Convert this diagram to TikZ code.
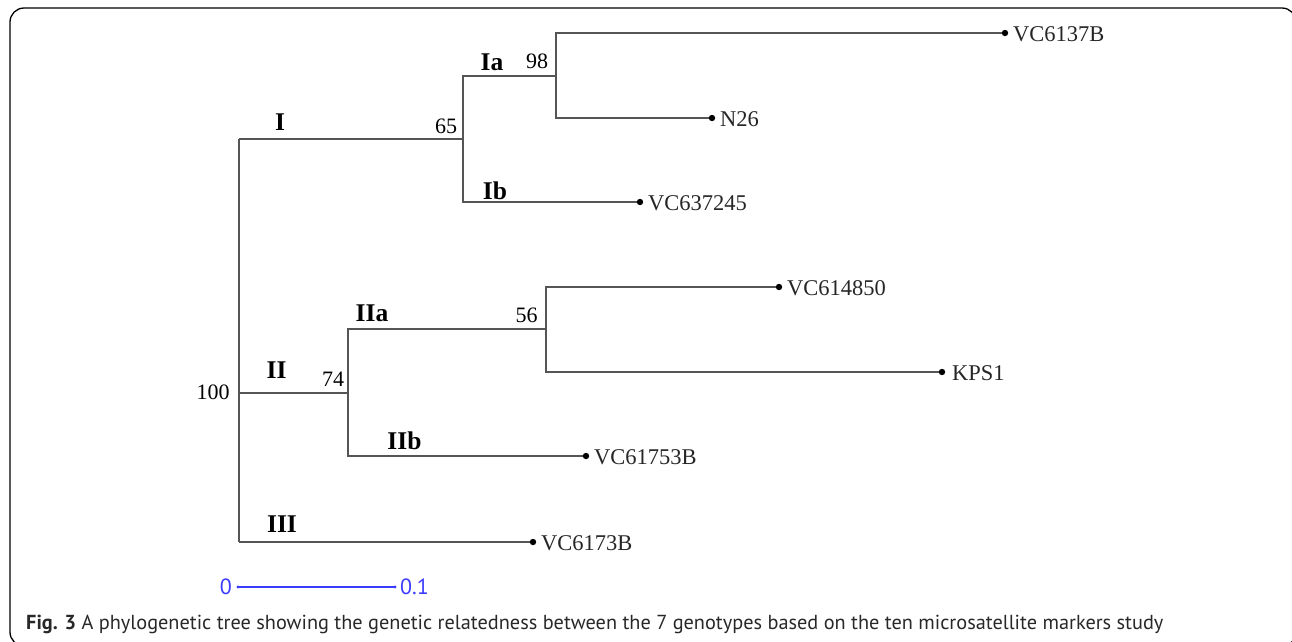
\documentclass[tikz,border=0pt]{standalone}
\usepackage{fontspec}
\setmainfont{Liberation Serif}
\newfontfamily\capfont{PT Sans}
\definecolor{branchgray}{RGB}{85,85,85}
\definecolor{scaleblue}{RGB}{60,60,255}
\definecolor{captext}{RGB}{40,40,40}
\begin{document}
\begin{tikzpicture}[x=1pt,y=-1pt,
  branch/.style={draw=branchgray, line width=2pt},
  leafdot/.style={fill=black},
  taxon/.style={anchor=west, inner sep=0pt, text=black!85,
                font=\fontsize{22.5}{24}\selectfont},
  clade/.style={inner sep=0pt, font=\fontsize{25.5}{28}\selectfont\bfseries},
  support/.style={inner sep=0pt, font=\fontsize{22}{24}\selectfont},
  scalelabel/.style={inner sep=0pt, text=scaleblue,
                     font=\capfont\fontsize{22}{24}\selectfont},
]
\useasboundingbox (0,0) rectangle (1292,641);

% outer frame
\begin{scope}
  \clip (0,0) rectangle (1292,641);
  \draw[line width=1.3pt, rounded corners=14pt] (10,8) rectangle (1296,646);
\end{scope}

% internal nodes of the tree
\coordinate (rI)   at (239,139);
\coordinate (root) at (239,393);
\coordinate (rIII) at (239,542);
\coordinate (n65)  at (463,139);
\coordinate (n98)  at (556,76);
\coordinate (n74)  at (348,393);
\coordinate (n56)  at (546,329);

% tips
\coordinate (t1) at (1005,33);
\coordinate (t2) at (712,118);
\coordinate (t3) at (640,202);
\coordinate (t4) at (779,287);
\coordinate (t5) at (942,372);
\coordinate (t6) at (586,456);
\coordinate (t7) at (533,542);

% branches
\draw[branch] (rI) -- (rIII);
\draw[branch] (rI) -- (n65);
\draw[branch] (n65) |- (n98);
\draw[branch] (n65) |- (t3);
\draw[branch] (n98) |- (t1);
\draw[branch] (n98) |- (t2);
\draw[branch] (root) -- (n74);
\draw[branch] (n74) |- (n56);
\draw[branch] (n74) |- (t6);
\draw[branch] (n56) |- (t4);
\draw[branch] (n56) |- (t5);
\draw[branch] (rIII) -- (t7);

% tip markers and names
\foreach \t in {t1,t2,t3,t4,t5,t6,t7} \fill[leafdot] (\t) circle (3.2pt);
\node[taxon] (VC6137B)  at ([xshift=8pt,yshift=-1.5pt]t1) {VC6137B};
\node[taxon] (N26)      at ([xshift=8pt,yshift=-1.5pt]t2) {N26};
\node[taxon] (VC637245) at ([xshift=8pt,yshift=-1.5pt]t3) {VC637245};
\node[taxon] (VC614850) at ([xshift=8pt,yshift=-1.5pt]t4) {VC614850};
\node[taxon] (KPS1)     at ([xshift=10pt,yshift=-1.5pt]t5) {KPS1};
\node[taxon] (VC61753B) at ([xshift=8pt,yshift=-1.5pt]t6) {VC61753B};
\node[taxon] (VC6173B)  at ([xshift=8pt,yshift=-1.5pt]t7) {VC6173B};

% clade names
\node[clade] (cI)   at (280,122) {I};
\node[clade] (cIa)  at (492,62.5)  {Ia};
\node[clade] (cIb)  at (495,190.5) {Ib};
\node[clade] (cII)  at (276.5,370.5) {II};
\node[clade] (cIIa) at (372,313.5) {IIa};
\node[clade] (cIIb) at (404.5,440.5) {IIb};
\node[clade] (cIII) at (282,524.5) {III};

% bootstrap support
\node[support] (b100) at (213,392)   {100};
\node[support] (b65)  at (446,126)   {65};
\node[support] (b98)  at (537,61.5)  {98};
\node[support] (b74)  at (333,379.5) {74};
\node[support] (b56)  at (526.5,315) {56};

% scale bar
\coordinate (s0) at (238,587);
\coordinate (s1) at (395,587);
\draw[scaleblue, line width=1.3pt] (s0) -- (s1);
\fill[scaleblue] (s0) circle (1.6pt) (s1) circle (1.6pt);
\node[scalelabel, anchor=east] (sc0) at ([xshift=-6pt]s0) {0};
\node[scalelabel, anchor=west] (sc1) at ([xshift=5pt]s1) {0.1};

% caption
\node[anchor=base west, inner sep=0pt, text=captext,
      font=\capfont\fontsize{20.3}{23}\selectfont] (caption) at (26,629)
  {\textbf{Fig. 3} A phylogenetic tree showing the genetic relatedness between the 7 genotypes based on the ten microsatellite markers study};
\end{tikzpicture}
\end{document}
